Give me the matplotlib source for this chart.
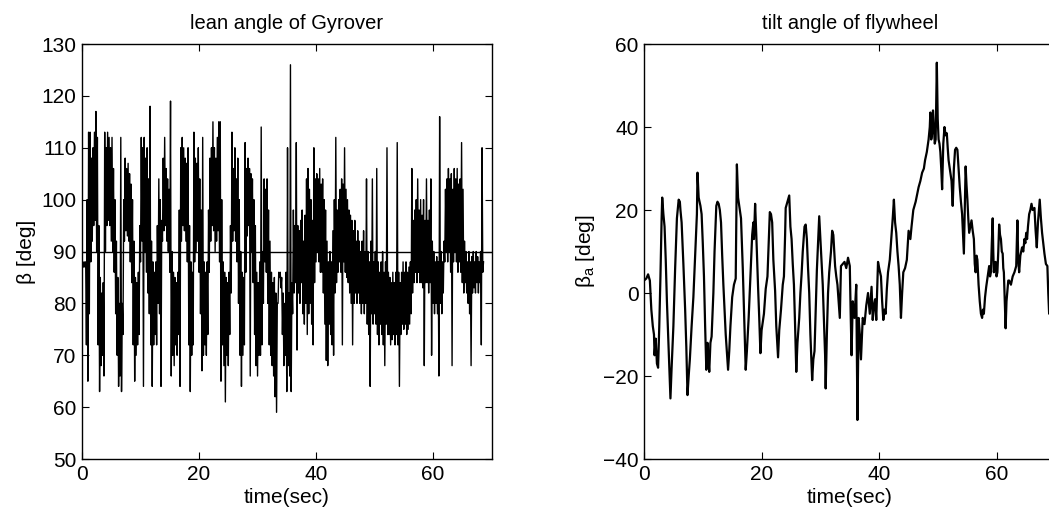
import numpy as np
import matplotlib.pyplot as plt

plt.rcParams['font.family'] = ['Liberation Sans', 'DejaVu Sans']
plt.rcParams['mathtext.fontset'] = 'custom'
plt.rcParams['mathtext.rm'] = 'Liberation Sans'
plt.rcParams['mathtext.it'] = 'Liberation Sans'

# lean angle of Gyrover, read every 0.25 s: upper / lower edge of the fast wobble
lean_step = 0.25
lean_hi = [
    88, 88, 88, 100, 113, 113, 108, 110, 113, 117, 112, 95, 85, 82, 84, 113, 110, 113, 112, 110,
    112, 106, 100, 92, 85, 80, 112, 80, 100, 108, 106, 107, 105, 103, 100, 92, 85, 84, 86, 95,
    112, 110, 112, 108, 110, 104, 118, 92, 88, 86, 88, 95, 104, 100, 96, 108, 112, 106, 104, 102,
    119, 90, 86, 85, 84, 86, 98, 110, 112, 110, 108, 107, 110, 95, 88, 86, 113, 108, 107, 110,
    104, 98, 112, 88, 86, 88, 98, 108, 110, 115, 110, 108, 112, 115, 115, 100, 88, 86, 85, 84,
    86, 95, 113, 106, 110, 104, 108, 100, 90, 86, 85, 111, 106, 108, 106, 105, 104, 100, 95, 86,
    84, 88, 114, 90, 104, 102, 104, 98, 92, 86, 84, 85, 82, 80, 86, 86, 85, 82, 80, 86,
    110, 82, 126, 84, 98, 95, 111, 95, 94, 96, 98, 92, 97, 104, 106, 102, 100, 96, 110, 104,
    105, 104, 106, 103, 104, 100, 98, 92, 88, 90, 88, 94, 100, 112, 98, 100, 102, 104, 103, 110,
    102, 100, 98, 97, 96, 94, 96, 92, 94, 92, 90, 92, 94, 90, 104, 90, 88, 92, 104, 88,
    90, 106, 88, 86, 88, 90, 86, 88, 110, 86, 85, 84, 86, 84, 86, 111, 86, 84, 86, 88,
    86, 88, 86, 87, 88, 106, 96, 98, 100, 104, 98, 100, 97, 100, 96, 104, 96, 98, 104, 92,
    90, 88, 89, 88, 116, 90, 88, 92, 102, 104, 106, 104, 105, 102, 106, 104, 106, 103, 104, 111,
    102, 92, 90, 88, 90, 88, 89, 90, 88, 90, 89, 88, 90, 110, 88,
]
lean_lo = [
    87, 87, 87, 72, 65, 78, 88, 92, 95, 96, 90, 72, 63, 68, 70, 66, 90, 95, 96, 95,
    92, 90, 86, 78, 70, 64, 66, 63, 74, 92, 94, 93, 92, 88, 84, 72, 65, 70, 72, 74,
    88, 92, 64, 90, 86, 82, 78, 72, 64, 72, 74, 72, 80, 78, 64, 92, 94, 95, 92, 90,
    86, 66, 70, 68, 72, 70, 74, 64, 92, 95, 94, 92, 88, 72, 63, 70, 72, 88, 90, 92,
    86, 78, 67, 70, 72, 70, 74, 86, 92, 95, 94, 90, 92, 94, 88, 65, 72, 68, 61, 70,
    68, 74, 82, 92, 94, 92, 88, 80, 70, 64, 70, 72, 86, 93, 95, 66, 90, 84, 74, 68,
    66, 70, 70, 72, 80, 88, 86, 80, 72, 70, 68, 66, 62, 59, 80, 85, 83, 74, 68, 70,
    63, 68, 66, 63, 78, 82, 84, 71, 82, 80, 84, 78, 76, 80, 74, 78, 80, 76, 72, 84,
    88, 90, 88, 86, 86, 82, 76, 69, 68, 76, 74, 72, 70, 82, 84, 86, 88, 86, 72, 88,
    86, 85, 84, 82, 80, 72, 80, 82, 80, 82, 80, 78, 80, 78, 80, 76, 74, 64, 78, 76,
    78, 76, 74, 72, 76, 74, 72, 68, 76, 74, 74, 72, 73, 74, 72, 74, 72, 64, 74, 76,
    75, 76, 74, 75, 76, 78, 82, 84, 86, 84, 86, 84, 84, 83, 68, 84, 84, 82, 84, 70,
    80, 78, 80, 78, 66, 80, 78, 82, 88, 90, 88, 90, 86, 68, 88, 90, 88, 86, 88, 86,
    84, 82, 84, 82, 80, 78, 68, 82, 83, 82, 84, 82, 84, 72, 86,
]
lean_ref = 90

# tilt angle of flywheel, (time, deg)
tilt_samples = [
    (0, 3), (0.4, 3.5), (0.7, 4.5), (1.0, 3), (1.25, -4), (1.5, -8), (1.7, -10), (1.8, -15),
    (2.0, -11), (2.2, -17), (2.4, -18), (2.6, -8), (2.8, 4), (3.0, 18), (3.1, 23), (3.3, 19),
    (3.5, 16), (3.7, 8), (3.9, -2), (4.2, -14), (4.5, -25.4), (4.7, -18), (5.0, -8), (5.3, 6),
    (5.6, 18), (5.9, 22.5), (6.1, 22), (6.2, 20), (6.4, 17), (6.7, 7), (7.0, -4), (7.2, -13),
    (7.4, -24.6), (7.6, -20), (7.8, -16), (8.1, -8), (8.4, -1), (8.7, 9), (9.0, 19), (9.1, 29),
    (9.3, 23), (9.6, 21), (9.8, 19), (10.0, 12), (10.2, 4), (10.4, -8), (10.6, -18.5), (10.8, -12),
    (10.9, -15), (11.1, -19), (11.3, -12), (11.5, -10.5), (11.8, 0), (12.0, 10), (12.3, 21), (12.5, 22),
    (12.7, 21.5), (12.9, 20), (13.1, 17), (13.3, 9), (13.5, 2), (13.9, -10), (14.3, -18.5), (14.5, -14),
    (14.7, -8), (15.0, -1), (15.3, 2), (15.6, 3.5), (15.8, 31), (16.0, 23), (16.2, 21), (16.5, 18),
    (16.8, 6), (17.0, -4), (17.3, -18.5), (17.5, -14), (17.8, -6), (18.1, 4), (18.4, 14), (18.6, 17),
    (18.7, 13), (18.9, 21.5), (19.1, 14), (19.4, 1.5), (19.6, -6), (19.8, -14.5), (20.0, -9), (20.4, -5),
    (20.7, 1), (21.0, 4), (21.2, 12), (21.4, 19.5), (21.6, 19), (21.8, 17), (22.0, 8), (22.3, 0.5),
    (22.5, -8), (22.8, -15.5), (23.0, -9), (23.3, -4), (23.6, 2), (23.8, 4), (24.0, 14), (24.1, 20.5),
    (24.4, 22), (24.7, 23.5), (24.9, 16), (25.1, 13), (25.3, 7), (25.5, 2), (25.7, -8), (25.9, -19),
    (26.1, -12), (26.4, -6), (26.6, 0), (26.8, 4.5), (27.0, 10), (27.3, 16), (27.5, 16.5), (27.7, 13),
    (27.9, 6), (28.1, 0), (28.3, -10), (28.6, -21), (28.8, -16), (29.0, -14), (29.2, -4), (29.4, 5.5),
    (29.6, 12), (29.8, 18.5), (30.0, 13), (30.2, 8), (30.4, 2), (30.6, -6.5), (30.8, -15), (30.9, -23),
    (31.1, -10), (31.3, 0), (31.5, 5), (31.8, 10), (32.0, 15), (32.2, 14), (32.4, 9), (32.5, 6.5),
    (32.7, 4), (32.9, 2), (33.1, -2), (33.3, -6), (33.5, 6.5), (33.8, 7), (34.1, 7.5), (34.4, 6),
    (34.7, 8.5), (35.0, 6.5), (35.15, -5), (35.3, -15), (35.5, -2), (35.8, -6), (36.1, 2), (36.3, -30.6),
    (36.5, -6), (36.7, -10), (36.9, -16), (37.2, -6), (37.5, -7.5), (37.8, -3), (38.1, 0), (38.4, -5),
    (38.7, 1.5), (38.9, -6.5), (39.1, -3), (39.3, -1.5), (39.5, -6.5), (39.8, 7.5), (40.0, 6), (40.3, 4),
    (40.5, -2), (40.7, -6.5), (40.9, -4), (41.1, -5), (41.3, 1), (41.5, 5), (41.8, 8), (42.0, 12),
    (42.3, 18), (42.5, 22.5), (42.7, 17), (42.9, 14.5), (43.1, 10), (43.3, 6.5), (43.5, 2), (43.7, -6),
    (43.9, 0), (44.1, 5), (44.4, 6), (44.7, 8), (45.0, 15), (45.3, 13), (45.5, 16), (45.8, 20),
    (46.2, 22), (46.7, 25.5), (47.0, 27), (47.3, 29), (47.6, 30), (47.8, 32), (48.1, 34), (48.4, 37),
    (48.6, 40), (48.7, 43.5), (48.85, 37), (49.0, 38.5), (49.15, 44), (49.3, 40), (49.45, 36), (49.6, 37),
    (49.8, 55.5), (49.95, 42), (50.1, 37), (50.25, 36), (50.4, 34), (50.55, 30), (50.7, 25), (50.9, 36),
    (51.1, 40), (51.3, 38), (51.5, 38.5), (51.65, 35), (51.8, 32), (52.0, 30), (52.3, 27), (52.5, 21),
    (52.7, 30), (52.9, 34.5), (53.1, 35), (53.3, 34.5), (53.5, 30), (53.7, 25.5), (53.9, 22), (54.1, 19),
    (54.25, 14), (54.4, 9.5), (54.55, 20), (54.7, 30.5), (54.85, 26), (55.0, 22.5), (55.15, 18), (55.3, 14.5),
    (55.5, 16), (55.7, 17.5), (55.9, 15), (56.1, 13), (56.25, 7), (56.4, 5), (56.55, 9), (56.7, 8),
    (56.9, 2), (57.1, -2), (57.3, -5), (57.5, -6), (57.65, -4), (57.8, -5), (58.0, -1), (58.2, 1.5),
    (58.45, 4), (58.7, 6.5), (58.85, 4), (59.0, 5), (59.15, 12), (59.3, 18), (59.4, 10), (59.5, 5),
    (59.65, 7), (59.8, 7.5), (59.95, 4), (60.1, 5), (60.25, 10), (60.4, 16.5), (60.55, 14), (60.7, 13),
    (60.85, 10), (61.0, 9.5), (61.1, 6), (61.2, 5), (61.35, -2), (61.5, -8.5), (61.65, -2), (61.8, 0.5),
    (61.95, 3), (62.1, 3), (62.4, 2), (62.7, 4), (63.0, 5), (63.3, 6.5), (63.4, 12), (63.5, 17.5),
    (63.65, 8), (63.8, 5), (64.0, 9), (64.3, 11), (64.5, 10), (64.7, 13), (64.85, 12), (65.0, 14.5),
    (65.15, 13), (65.3, 16), (65.5, 19), (65.7, 20), (65.9, 21.5), (66.1, 20), (66.4, 20.5), (66.6, 15),
    (66.8, 11), (67.0, 17), (67.3, 22.5), (67.5, 18), (67.7, 14.5), (67.9, 12), (68.1, 9.5), (68.35, 7),
    (68.6, 6.5), (68.75, 0), (68.9, -5), (69.1, -1), (69.3, 3),
]
tilt_t, tilt_v = np.array(tilt_samples).T

fig = plt.figure(figsize=(10.49, 5.21), dpi=100)
ax1 = fig.add_axes([0.0782, 0.119, 0.3904, 0.7965])
ax2 = fig.add_axes([0.6139, 0.119, 0.3924, 0.7965])

# the fast wobble is drawn as a zigzag between the two edges
t_lean = np.arange(len(lean_hi)) * lean_step
zx = np.column_stack([t_lean, t_lean + lean_step / 2]).ravel()
zy = np.column_stack([lean_lo, lean_hi]).ravel()
ax1.plot(zx, zy, color='black', lw=1.0)
ax1.axhline(lean_ref, color='black', lw=1.0)
ax1.set_xlim(0, 70)
ax1.set_ylim(50, 130)
ax1.set_xticks([0, 20, 40, 60])
ax1.set_yticks(np.arange(50, 131, 10))
ax1.set_title('lean angle of Gyrover', fontsize=14.5, pad=11)
ax1.set_xlabel('time(sec)', fontsize=15, labelpad=3)
ax1.set_ylabel('β [deg]', fontsize=15, labelpad=4)

ax2.plot(tilt_t, tilt_v, color='black', lw=1.6, solid_joinstyle='round')
ax2.set_xlim(0, 70)
ax2.set_ylim(-40, 60)
ax2.set_xticks([0, 20, 40, 60])
ax2.set_yticks(np.arange(-40, 61, 20))
ax2.set_title('tilt angle of flywheel', fontsize=14.5, pad=11)
ax2.set_xlabel('time(sec)', fontsize=15, labelpad=3)
ax2.set_ylabel(r'$\mathregular{\beta_a}$ [deg]', fontsize=15, labelpad=4)

for ax in (ax1, ax2):
    ax.tick_params(direction='in', top=True, right=True, length=5, width=0.8,
                   labelsize=15, pad=4)
    for sp in ax.spines.values():
        sp.set_linewidth(1.0)

fig.savefig('out.png', dpi=100)
